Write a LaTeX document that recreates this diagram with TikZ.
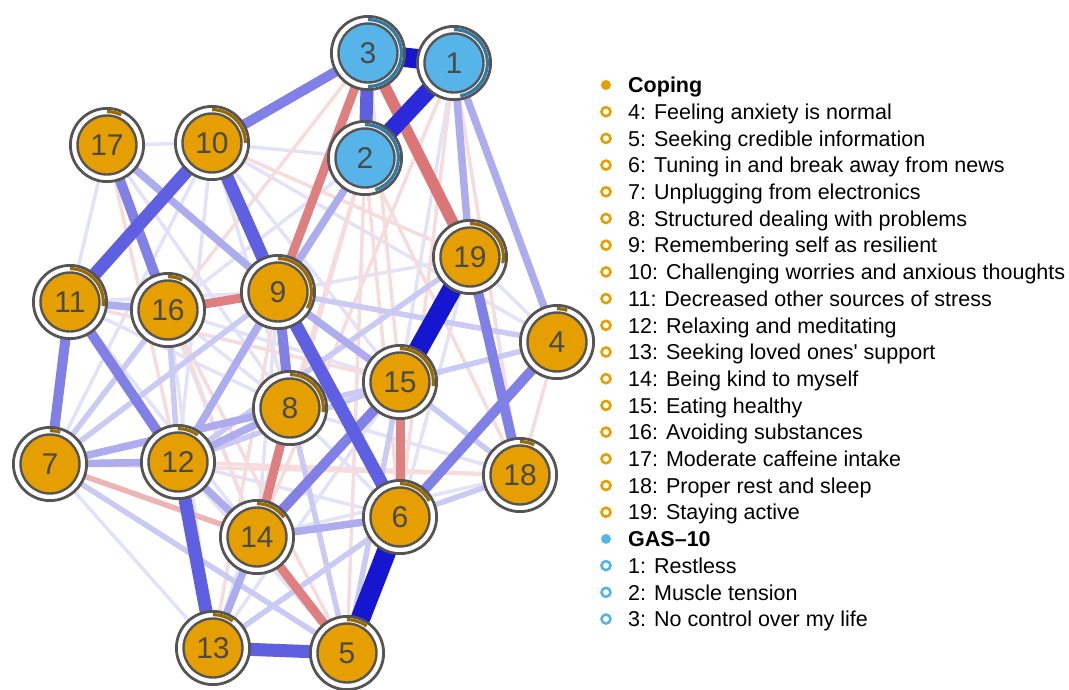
\documentclass[tikz,border=0pt]{standalone}
\usepackage{fontspec}
\setmainfont{Liberation Sans}
\newfontfamily\legfont{Liberation Sans}
\usetikzlibrary{positioning}

\pgfdeclarelayer{bg}
\pgfsetlayers{bg,main}

\definecolor{copfill}{HTML}{E69F00}
\definecolor{copdark}{HTML}{9A6A00}
\definecolor{gasfill}{HTML}{56B4E9}
\definecolor{gasdark}{HTML}{2F7BA6}
\definecolor{ringgray}{HTML}{555555}
\definecolor{numgray}{HTML}{4A4A4A}

\tikzset{
  pos1/.style={draw={rgb,255:red,226;green,226;blue,248}, line width=3.5pt},
  pos2/.style={draw={rgb,255:red,202;green,202;blue,244}, line width=5.5pt},
  pos3/.style={draw={rgb,255:red,172;green,172;blue,238}, line width=7.5pt},
  pos4/.style={draw={rgb,255:red,128;green,128;blue,230}, line width=10pt},
  pos5/.style={draw={rgb,255:red,95;green,95;blue,225}, line width=13pt},
  pos6/.style={draw={rgb,255:red,42;green,42;blue,218}, line width=17pt},
  pos7/.style={draw={rgb,255:red,22;green,22;blue,208}, line width=19.5pt},
  neg1/.style={draw={rgb,255:red,246;green,220;blue,220}, line width=3.5pt},
  neg2/.style={draw={rgb,255:red,236;green,180;blue,180}, line width=5.5pt},
  neg3/.style={draw={rgb,255:red,222;green,128;blue,128}, line width=9pt},
  neg4/.style={draw={rgb,255:red,220;green,118;blue,118}, line width=11.5pt},
}

\begin{document}
\begin{tikzpicture}[x=1pt,y=-1pt,
  every node/.style={inner sep=0pt},
  item/.style={circle, draw=ringgray, line width=2.4pt, minimum size=59pt,
    font=\fontsize{30}{30}\selectfont, text=numgray},
  legtext/.style={anchor=base west, font=\legfont\fontsize{21.5}{24}\selectfont, text=black},
  hdcop/.style={circle, fill=copfill, minimum size=10pt},
  itcop/.style={circle, draw=copfill, line width=2.6pt, minimum size=9pt},
  hdgas/.style={circle, fill=gasfill, minimum size=10pt},
  itgas/.style={circle, draw=gasfill, line width=2.6pt, minimum size=9pt}]
\useasboundingbox (0,0) rectangle (1069,689);

% the nodes, with their pie rings
\foreach \n/\x/\y/\fc/\ac/\p in {
    1/454/63/gasfill/gasdark/0.47, 2/365/158/gasfill/gasdark/0.45,
    3/368/53/gasfill/gasdark/0.5, 4/557/342/copfill/copdark/0.05,
    5/347/653/copfill/copdark/0.1, 6/400/517/copfill/copdark/0.17,
    7/50/464/copfill/copdark/0.05, 8/290/408/copfill/copdark/0.27,
    9/278/292/copfill/copdark/0.33, 10/212/143/copfill/copdark/0.25,
    11/70/302/copfill/copdark/0.27, 12/178/462/copfill/copdark/0.1,
    13/213/648/copfill/copdark/0.1, 14/257/537/copfill/copdark/0.15,
    15/400/382/copfill/copdark/0.27, 16/168/310/copfill/copdark/0.07,
    17/107/145/copfill/copdark/0.07, 18/520/475/copfill/copdark/0.07,
    19/470/257/copfill/copdark/0.28}
{
  \fill[white] (\x,\y) circle (35.5pt);
  \draw[ringgray, line width=2.8pt] (\x,\y) circle (36.6pt);
  \node[item, fill=\fc] (n\n) at (\x,\y) {\n};
  \draw[\ac, line width=3.2pt] ([shift={(90:33.4pt)}]n\n.center)
    arc[start angle=90, delta angle={-360*\p}, radius=33.4pt];
}

% the edges, faint first
\begin{pgfonlayer}{bg}
\foreach \a/\b in {17/10, 17/11, 10/4, 10/15, 10/8, 10/12, 10/7, 16/8, 16/14,
    11/8, 11/9, 8/6, 8/18, 14/18, 12/6, 7/13, 13/15, 13/8, 18/9, 4/19, 4/8,
    2/16, 2/12, 1/15, 16/13, 14/9, 5/12, 16/15, 11/14, 17/8, 6/19, 9/19, 10/2}
  \draw[pos1] (n\a) -- (n\b);
\foreach \a/\b in {17/12, 2/18, 3/15, 2/8, 2/14, 1/6, 2/6, 1/18, 2/5, 3/16,
    10/19, 11/15, 7/18, 12/18, 4/18, 16/5, 17/14, 12/19, 1/14, 13/9}
  \draw[neg1] (n\a) -- (n\b);
\foreach \a/\b in {7/5, 9/4, 15/4, 5/8, 5/15, 7/9, 19/12, 6/18, 13/6, 16/12,
    7/16, 12/15, 8/15, 18/15}
  \draw[pos2] (n\a) -- (n\b);
\draw[neg2] (n7) -- (n14);
\foreach \a/\b in {2/9, 9/12, 17/9, 14/6, 14/13, 12/14, 1/19, 1/4, 12/7,
    11/16, 9/15, 7/8, 12/8}
  \draw[pos3] (n\a) -- (n\b);
\foreach \a/\b in {16/9, 15/6, 8/14, 14/5, 3/9}
  \draw[neg3] (n\a) -- (n\b);
\draw[neg4] (n3) -- (n19);
\foreach \a/\b in {3/10, 17/16, 11/7, 11/12, 9/8, 15/14, 4/6, 19/18}
  \draw[pos4] (n\a) -- (n\b);
\foreach \a/\b in {12/13, 13/5, 10/9, 10/11, 9/6, 3/2}
  \draw[pos5] (n\a) -- (n\b);
\draw[pos6] (n1) -- (n2);
\foreach \a/\b in {3/1, 19/15, 6/5}
  \draw[pos7] (n\a) -- (n\b);
\end{pgfonlayer}

% legend
\foreach \m/\t [count=\i from 0] in {hdcop/\textbf{Coping},
    itcop/4: Feeling anxiety is normal,
    itcop/5: Seeking credible information,
    itcop/6: Tuning in and break away from news,
    itcop/7: Unplugging from electronics,
    itcop/8: Structured dealing with problems,
    itcop/9: Remembering self as resilient,
    itcop/10: Challenging worries and anxious thoughts,
    itcop/11: Decreased other sources of stress,
    itcop/12: Relaxing and meditating,
    itcop/13: Seeking loved ones' support,
    itcop/14: Being kind to myself,
    itcop/15: Eating healthy,
    itcop/16: Avoiding substances,
    itcop/17: Moderate caffeine intake,
    itcop/18: Proper rest and sleep,
    itcop/19: Staying active,
    hdgas/\textbf{GAS–10},
    itgas/1: Restless,
    itgas/2: Muscle tension,
    itgas/3: No control over my life}
{
  \node[\m] (m\i) at (606, 85+26.7*\i) {};
  \node[legtext] (l\i) at (628, 92.7+26.7*\i) {\t};
}
\end{tikzpicture}
\end{document}
